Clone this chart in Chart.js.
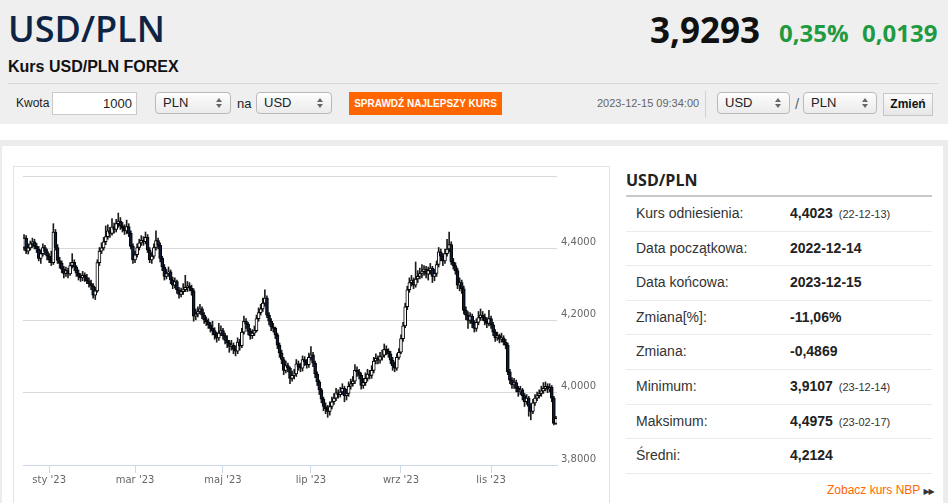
<!DOCTYPE html>
<html lang="pl">
<head>
<meta charset="utf-8">
<title>Kurs USD/PLN FOREX</title>
<script src="https://cdn.jsdelivr.net/npm/chart.js@4.4.1/dist/chart.umd.min.js"></script>
<style>
  html, body { margin: 0; padding: 0; }
  body { width: 948px; height: 503px; overflow: hidden; position: relative; background: #fff;
         font-family: "Liberation Sans", Arial, sans-serif; color: #222; }
  body > div { position: absolute; }
  #hdr { left: 0; top: 0; width: 948px; height: 124px; background: #efefef; }
  #title { left: 8px; top: 11px; font: 600 36px/1 "Open Sans", sans-serif; color: #0d2445; }
  #sub { left: 8px; top: 59px; font: bold 16px/1 "Liberation Sans", Arial, sans-serif; color: #111; }
  #price { left: 650px; top: 12px; font: 700 35px/1 "Open Sans", sans-serif; color: #111; }
  .chg { top: 21px; font: 700 24px/1 "Open Sans", sans-serif; color: #1f9a40; }
  #hr { left: 8px; top: 83px; width: 930px; height: 1px; background: #d6d6d6; }
  .lbl { top: 92px; height: 23px; line-height: 23px; font-size: 13px; color: #222; }
  #kwota { left: 52px; top: 92px; width: 85px; height: 23px; box-sizing: border-box; border: 1px solid #c9c9c9;
           background: #fff; text-align: right; padding-right: 4px; line-height: 21px; font-size: 13px; }
  .sel { top: 92px; height: 22px; box-sizing: border-box; border: 1px solid #b9b9b9; border-radius: 4px;
         background: linear-gradient(#fdfdfd, #ebebeb); padding-left: 7px; line-height: 20px; font-size: 13px; }
  .sel i { position: absolute; right: 8px; top: 5px; width: 6px; height: 11px; }
  .sel i::before, .sel i::after { content: ''; position: absolute; left: 0; border-left: 3px solid transparent; border-right: 3px solid transparent; }
  .sel i::before { top: 0; border-bottom: 4px solid #666; }
  .sel i::after { top: 6px; border-top: 4px solid #666; }
  #btn { left: 349px; top: 92px; width: 153px; height: 23px; background: #ff6600; color: #fff;
         font: bold 10px/23px "Liberation Sans", Arial, sans-serif; text-align: center; }
  #stamp { left: 597px; top: 92px; line-height: 23px; font-size: 11px; color: #666; }
  #vsep { left: 705px; top: 91px; width: 1px; height: 27px; background: #d2d2d2; }
  #zmien { left: 883px; top: 93px; width: 50px; height: 23px; box-sizing: border-box; border: 1px solid #c6c6c6;
           background: linear-gradient(#fbfbfb, #e6e6e6); text-align: center; font: bold 12px/21px "Liberation Sans", Arial, sans-serif; color: #111; }
  #band { left: 0; top: 140px; width: 948px; height: 6px; background: #ececec; }
  #lband { left: 0; top: 140px; width: 2px; height: 363px; background: #ececec; }
  #rband { left: 943px; top: 140px; width: 5px; height: 363px; background: #ececec; }
  #chartbox { left: 13px; top: 166px; width: 597px; height: 345px; box-sizing: border-box; border: 1px solid #e3e3e3; }
  #chartwrap { left: 13px; top: 166px; width: 597px; height: 337px; }
  #sideTitle { left: 626px; top: 172px; font: 700 16px/1 "Open Sans", sans-serif; color: #222; }
  #sideLine { left: 626px; top: 195px; width: 306px; height: 2px; background: #c8c8c8; }
  #rows { left: 626px; top: 197px; width: 306px; }
  .row { position: relative; height: 33.6px; line-height: 33.6px; border-bottom: 1px solid #ebebeb; font-size: 14px; color: #333; padding-left: 10px; }
  .row b { position: absolute; left: 164px; top: 0; color: #222; }
  .row small { font-size: 11px; font-weight: normal; margin-left: 6px; color: #333; }
  #nbp { left: 827px; top: 483px; font-size: 12px; line-height: 14px; color: #ff6600; white-space: nowrap; }
  #nbp span { font: 8px "DejaVu Sans", sans-serif; color: #333; letter-spacing: -1px; margin-left: 3px; }
</style>
</head>
<body>
<div id="hdr"></div>
<div id="title">USD/PLN</div>
<div id="sub">Kurs USD/PLN FOREX</div>
<div id="price">3,9293</div>
<div class="chg" style="left:779px">0,35%</div>
<div class="chg" style="left:862px">0,0139</div>
<div id="hr"></div>
<div class="lbl" style="left:16px;font-size:12px">Kwota</div>
<div id="kwota">1000</div>
<div class="sel" style="left:155px;width:76px">PLN<i></i></div>
<div class="lbl" style="left:237px">na</div>
<div class="sel" style="left:256px;width:76px">USD<i></i></div>
<div id="btn">SPRAWDŹ NAJLEPSZY KURS</div>
<div id="stamp">2023-12-15 09:34:00</div>
<div id="vsep"></div>
<div class="sel" style="left:717px;width:73px">USD<i></i></div>
<div class="lbl" style="left:795px;color:#666;font-size:15px">/</div>
<div class="sel" style="left:803px;width:74px">PLN<i></i></div>
<div id="zmien">Zmień</div>

<div id="band"></div>
<div id="lband"></div>
<div id="rband"></div>
<div id="chartbox"></div>
<div id="chartwrap"><canvas id="chart"></canvas></div>

<div id="sideTitle">USD/PLN</div>
<div id="sideLine"></div>
<div id="rows">
  <div class="row">Kurs odniesienia:<b>4,4023<small>(22-12-13)</small></b></div>
  <div class="row">Data początkowa:<b>2022-12-14</b></div>
  <div class="row">Data końcowa:<b>2023-12-15</b></div>
  <div class="row">Zmiana[%]:<b>-11,06%</b></div>
  <div class="row">Zmiana:<b>-0,4869</b></div>
  <div class="row">Minimum:<b>3,9107<small>(23-12-14)</small></b></div>
  <div class="row">Maksimum:<b>4,4975<small>(23-02-17)</small></b></div>
  <div class="row">Średni:<b>4,2124</b></div>
</div>
<div id="nbp">Zobacz kurs NBP<span>▶▶</span></div>

<script>
// sesje od 2022-12-14 do 2023-12-15 (dni robocze, bez swiat w PL)
const startDay = '2022-12-14';
const endDay = '2023-12-15';
const holidays = ['2022-12-26', '2023-01-06', '2023-04-10', '2023-05-01', '2023-05-03', '2023-06-08', '2023-08-15', '2023-11-01'];
const monthNames = ['sty', 'lut', 'mar', 'kwi', 'maj', 'cze', 'lip', 'sie', 'wrz', 'paź', 'lis', 'gru'];
const tickMonths = [0, 2, 4, 6, 8, 10];
const yTicks = { min: 3.8, max: 4.6, step: 0.2 };

const opens = [
  4.402, 4.428, 4.392, 4.401, 4.412, 4.418, 4.405, 4.398, 4.372, 4.385,
  4.402, 4.391, 4.378, 4.368, 4.360, 4.445, 4.402, 4.366, 4.358, 4.342,
  4.330, 4.338, 4.329, 4.352, 4.361, 4.348, 4.331, 4.322, 4.318, 4.325,
  4.319, 4.310, 4.302, 4.296, 4.270, 4.282, 4.360, 4.392, 4.401, 4.418,
  4.432, 4.448, 4.441, 4.459, 4.452, 4.468, 4.475, 4.462, 4.455, 4.448,
  4.460, 4.441, 4.405, 4.368, 4.382, 4.402, 4.415, 4.422, 4.418, 4.430,
  4.395, 4.368, 4.378, 4.402, 4.421, 4.408, 4.372, 4.348, 4.322, 4.330,
  4.335, 4.312, 4.298, 4.308, 4.285, 4.272, 4.280, 4.285, 4.292, 4.296,
  4.290, 4.282, 4.212, 4.218, 4.225, 4.232, 4.215, 4.202, 4.196, 4.188,
  4.178, 4.172, 4.160, 4.152, 4.165, 4.172, 4.158, 4.145, 4.138, 4.128,
  4.132, 4.120, 4.115, 4.140, 4.130, 4.168, 4.198, 4.190, 4.170, 4.158,
  4.165, 4.172, 4.205, 4.222, 4.232, 4.248, 4.262, 4.215, 4.198, 4.182,
  4.178, 4.160, 4.132, 4.110, 4.092, 4.062, 4.075, 4.068, 4.040, 4.048,
  4.052, 4.080, 4.072, 4.068, 4.092, 4.085, 4.078, 4.098, 4.105, 4.082,
  4.052, 4.030, 4.008, 3.982, 3.962, 3.955, 3.948, 3.962, 3.975, 3.985,
  4.000, 3.995, 4.002, 4.012, 3.992, 3.998, 4.018, 4.025, 4.032, 4.062,
  4.058, 4.048, 4.020, 4.028, 4.040, 4.052, 4.048, 4.062, 4.088, 4.095,
  4.090, 4.100, 4.104, 4.120, 4.115, 4.108, 4.090, 4.075, 4.068, 4.098,
  4.112, 4.150, 4.185, 4.238, 4.285, 4.305, 4.312, 4.298, 4.315, 4.322,
  4.330, 4.335, 4.342, 4.328, 4.338, 4.345, 4.322, 4.330, 4.355, 4.390,
  4.378, 4.365, 4.385, 4.398, 4.410, 4.362, 4.352, 4.338, 4.298, 4.305,
  4.288, 4.228, 4.215, 4.200, 4.212, 4.192, 4.178, 4.195, 4.208, 4.215,
  4.210, 4.198, 4.192, 4.205, 4.188, 4.168, 4.152, 4.158, 4.148, 4.152,
  4.140, 4.132, 4.058, 4.035, 4.022, 4.028, 4.012, 4.002, 4.008, 3.992,
  3.975, 3.985, 3.962, 3.948, 3.972, 3.985, 3.992, 3.998, 4.005, 4.012,
  4.018, 4.010, 4.015, 3.985, 3.915
];
const highs = [
  4.438, 4.435, 4.412, 4.420, 4.428, 4.425, 4.414, 4.405, 4.395, 4.412,
  4.408, 4.398, 4.385, 4.392, 4.468, 4.452, 4.410, 4.375, 4.365, 4.350,
  4.348, 4.345, 4.360, 4.385, 4.368, 4.352, 4.340, 4.330, 4.336, 4.332,
  4.328, 4.318, 4.312, 4.302, 4.292, 4.368, 4.402, 4.415, 4.430, 4.462,
  4.465, 4.458, 4.482, 4.470, 4.480, 4.4975, 4.485, 4.472, 4.465, 4.478,
  4.468, 4.448, 4.412, 4.392, 4.412, 4.425, 4.435, 4.432, 4.445, 4.438,
  4.402, 4.388, 4.412, 4.448, 4.428, 4.415, 4.378, 4.355, 4.342, 4.348,
  4.340, 4.320, 4.318, 4.312, 4.292, 4.290, 4.302, 4.325, 4.308, 4.305,
  4.298, 4.288, 4.232, 4.238, 4.245, 4.238, 4.222, 4.210, 4.205, 4.195,
  4.198, 4.180, 4.168, 4.192, 4.185, 4.178, 4.165, 4.158, 4.145, 4.145,
  4.138, 4.130, 4.152, 4.148, 4.178, 4.212, 4.205, 4.195, 4.178, 4.175,
  4.185, 4.215, 4.235, 4.245, 4.262, 4.285, 4.268, 4.222, 4.205, 4.192,
  4.182, 4.165, 4.138, 4.118, 4.098, 4.088, 4.082, 4.072, 4.060, 4.065,
  4.092, 4.088, 4.082, 4.102, 4.100, 4.092, 4.110, 4.128, 4.112, 4.088,
  4.058, 4.035, 4.012, 3.988, 3.972, 3.965, 3.975, 3.988, 3.998, 4.012,
  4.008, 4.015, 4.025, 4.018, 4.010, 4.030, 4.038, 4.045, 4.078, 4.072,
  4.065, 4.055, 4.040, 4.055, 4.065, 4.062, 4.075, 4.098, 4.108, 4.102,
  4.112, 4.118, 4.135, 4.130, 4.122, 4.115, 4.098, 4.085, 4.108, 4.122,
  4.160, 4.195, 4.248, 4.295, 4.318, 4.325, 4.318, 4.362, 4.338, 4.345,
  4.355, 4.352, 4.350, 4.348, 4.358, 4.350, 4.342, 4.365, 4.402, 4.398,
  4.385, 4.398, 4.425, 4.445, 4.418, 4.372, 4.360, 4.345, 4.318, 4.312,
  4.295, 4.238, 4.225, 4.222, 4.218, 4.200, 4.205, 4.225, 4.232, 4.225,
  4.218, 4.208, 4.228, 4.212, 4.195, 4.175, 4.168, 4.162, 4.165, 4.158,
  4.148, 4.138, 4.065, 4.042, 4.040, 4.035, 4.018, 4.018, 4.012, 3.998,
  3.995, 3.990, 3.970, 3.982, 3.995, 4.002, 4.008, 4.018, 4.028, 4.030,
  4.025, 4.025, 4.020, 3.990, 3.935
];
const lows = [
  4.395, 4.385, 4.384, 4.395, 4.402, 4.398, 4.388, 4.365, 4.358, 4.378,
  4.382, 4.368, 4.360, 4.352, 4.355, 4.395, 4.358, 4.345, 4.332, 4.318,
  4.322, 4.318, 4.325, 4.345, 4.338, 4.322, 4.312, 4.308, 4.310, 4.308,
  4.302, 4.292, 4.285, 4.262, 4.258, 4.278, 4.352, 4.385, 4.395, 4.410,
  4.425, 4.430, 4.436, 4.442, 4.445, 4.458, 4.452, 4.445, 4.438, 4.440,
  4.432, 4.398, 4.358, 4.360, 4.375, 4.395, 4.408, 4.408, 4.412, 4.388,
  4.360, 4.358, 4.372, 4.395, 4.398, 4.362, 4.338, 4.312, 4.315, 4.322,
  4.302, 4.288, 4.290, 4.275, 4.262, 4.265, 4.272, 4.280, 4.280, 4.282,
  4.270, 4.198, 4.202, 4.210, 4.218, 4.205, 4.192, 4.186, 4.178, 4.168,
  4.160, 4.148, 4.140, 4.145, 4.158, 4.148, 4.135, 4.125, 4.112, 4.118,
  4.108, 4.102, 4.108, 4.118, 4.125, 4.162, 4.178, 4.160, 4.148, 4.150,
  4.158, 4.168, 4.198, 4.215, 4.225, 4.240, 4.208, 4.188, 4.172, 4.168,
  4.150, 4.122, 4.098, 4.080, 4.050, 4.055, 4.058, 4.025, 4.032, 4.038,
  4.045, 4.062, 4.058, 4.060, 4.075, 4.068, 4.070, 4.090, 4.072, 4.042,
  4.020, 3.995, 3.972, 3.950, 3.942, 3.932, 3.938, 3.955, 3.968, 3.978,
  3.985, 3.988, 3.995, 3.975, 3.980, 3.990, 4.010, 4.018, 4.025, 4.045,
  4.038, 4.010, 4.012, 4.020, 4.032, 4.038, 4.040, 4.055, 4.080, 4.080,
  4.082, 4.090, 4.098, 4.105, 4.098, 4.080, 4.062, 4.058, 4.062, 4.092,
  4.108, 4.142, 4.180, 4.230, 4.278, 4.295, 4.288, 4.292, 4.305, 4.315,
  4.318, 4.325, 4.318, 4.312, 4.328, 4.305, 4.310, 4.322, 4.348, 4.365,
  4.352, 4.358, 4.378, 4.390, 4.355, 4.342, 4.328, 4.288, 4.282, 4.275,
  4.218, 4.202, 4.178, 4.192, 4.180, 4.168, 4.170, 4.188, 4.200, 4.200,
  4.188, 4.180, 4.185, 4.178, 4.158, 4.142, 4.145, 4.138, 4.140, 4.132,
  4.122, 4.050, 4.025, 4.012, 4.012, 4.002, 3.990, 3.995, 3.980, 3.962,
  3.968, 3.935, 3.925, 3.942, 3.965, 3.978, 3.985, 3.990, 3.998, 4.005,
  4.000, 4.002, 3.975, 3.9107, 3.912
];
const closes = [
  4.428, 4.392, 4.401, 4.412, 4.418, 4.405, 4.398, 4.372, 4.385, 4.402,
  4.391, 4.378, 4.368, 4.360, 4.445, 4.402, 4.366, 4.358, 4.342, 4.330,
  4.338, 4.329, 4.352, 4.361, 4.348, 4.331, 4.322, 4.318, 4.325, 4.319,
  4.310, 4.302, 4.296, 4.270, 4.282, 4.360, 4.392, 4.401, 4.418, 4.432,
  4.448, 4.441, 4.459, 4.452, 4.468, 4.475, 4.462, 4.455, 4.448, 4.460,
  4.441, 4.405, 4.368, 4.382, 4.402, 4.415, 4.422, 4.418, 4.430, 4.395,
  4.368, 4.378, 4.402, 4.421, 4.408, 4.372, 4.348, 4.322, 4.330, 4.335,
  4.312, 4.298, 4.308, 4.285, 4.272, 4.280, 4.285, 4.292, 4.296, 4.290,
  4.282, 4.212, 4.218, 4.225, 4.232, 4.215, 4.202, 4.196, 4.188, 4.178,
  4.172, 4.160, 4.152, 4.165, 4.172, 4.158, 4.145, 4.138, 4.128, 4.132,
  4.120, 4.115, 4.140, 4.130, 4.168, 4.198, 4.190, 4.170, 4.158, 4.165,
  4.172, 4.205, 4.222, 4.232, 4.248, 4.262, 4.215, 4.198, 4.182, 4.178,
  4.160, 4.132, 4.110, 4.092, 4.062, 4.075, 4.068, 4.040, 4.048, 4.052,
  4.080, 4.072, 4.068, 4.092, 4.085, 4.078, 4.098, 4.105, 4.082, 4.052,
  4.030, 4.008, 3.982, 3.962, 3.955, 3.948, 3.962, 3.975, 3.985, 4.000,
  3.995, 4.002, 4.012, 3.992, 3.998, 4.018, 4.025, 4.032, 4.062, 4.058,
  4.048, 4.020, 4.028, 4.040, 4.052, 4.048, 4.062, 4.088, 4.095, 4.090,
  4.100, 4.104, 4.120, 4.115, 4.108, 4.090, 4.075, 4.068, 4.098, 4.112,
  4.150, 4.185, 4.238, 4.285, 4.305, 4.312, 4.298, 4.315, 4.322, 4.330,
  4.335, 4.342, 4.328, 4.338, 4.345, 4.322, 4.330, 4.355, 4.390, 4.378,
  4.365, 4.385, 4.398, 4.410, 4.362, 4.352, 4.338, 4.298, 4.305, 4.288,
  4.228, 4.215, 4.200, 4.212, 4.192, 4.178, 4.195, 4.208, 4.215, 4.210,
  4.198, 4.192, 4.205, 4.188, 4.168, 4.152, 4.158, 4.148, 4.152, 4.140,
  4.132, 4.058, 4.035, 4.022, 4.028, 4.012, 4.002, 4.008, 3.992, 3.975,
  3.985, 3.962, 3.948, 3.972, 3.985, 3.992, 3.998, 4.005, 4.012, 4.018,
  4.010, 4.015, 3.985, 3.915, 3.929
];

// kategorie osi X: kolejne dni sesyjne
const days = [];
for (let d = new Date(startDay + 'T00:00:00Z'); d <= new Date(endDay + 'T00:00:00Z'); d.setUTCDate(d.getUTCDate() + 1)) {
  const iso = d.toISOString().slice(0, 10);
  const wd = d.getUTCDay();
  if (wd === 0 || wd === 6 || holidays.includes(iso)) continue;
  days.push(iso);
}

// etykiety miesiecy na pierwszej sesji miesiaca
const monthTicks = {};
days.forEach((d, i) => {
  if (i === 0 || d.slice(5, 7) === days[i - 1].slice(5, 7)) return;
  const m = +d.slice(5, 7) - 1;
  if (tickMonths.includes(m)) monthTicks[i] = monthNames[m] + " '" + d.slice(2, 4);
});

Chart.defaults.font.family = '"DejaVu Sans", sans-serif';

new Chart(document.getElementById('chart'), {
  type: 'bar',
  data: {
    labels: days,
    datasets: [
      {
        label: 'knoty',
        data: lows.map((l, i) => [l, highs[i]]),
        backgroundColor: '#1c1c1c',
        borderWidth: 0,
        barThickness: 1,
        grouped: false,
        order: 2
      },
      {
        label: 'korpusy',
        data: opens.map((o, i) => [o, closes[i]]),
        backgroundColor: ctx => closes[ctx.dataIndex] >= opens[ctx.dataIndex] ? '#ffffff' : '#0d1c38',
        borderColor: '#000000',
        borderWidth: 1,
        borderSkipped: false,
        barThickness: 3,
        minBarLength: 1,
        grouped: false,
        order: 1
      }
    ]
  },
  options: {
    responsive: true,
    maintainAspectRatio: false,
    animation: false,
    layout: { padding: { left: 10, top: 10, right: 3, bottom: 0 } },
    plugins: { legend: { display: false }, tooltip: { enabled: false } },
    scales: {
      x: {
        type: 'category',
        offset: true,
        afterBuildTicks: axis => { axis.ticks = axis.ticks.filter(t => monthTicks[t.value] !== undefined); },
        afterFit: axis => { axis.height = 38; },
        grid: { drawOnChartArea: false, drawTicks: true, tickLength: 8, color: '#ccd6eb', offset: false },
        border: { color: '#ccd6eb' },
        ticks: {
          autoSkip: false, maxRotation: 0, padding: 1, color: '#666', font: { size: 10 },
          callback: v => monthTicks[v]
        }
      },
      y: {
        position: 'right',
        min: yTicks.min,
        max: yTicks.max,
        afterFit: axis => { axis.width = 50; },
        grid: {
          drawTicks: false,
          color: ctx => ctx.tick && Math.abs(ctx.tick.value - yTicks.min) < 1e-6 ? '#ccd6eb' : '#d9d9d9'
        },
        border: { display: false },
        ticks: {
          stepSize: yTicks.step, padding: 4, labelOffset: -6, color: '#666', font: { size: 10 },
          callback: v => v > yTicks.max - 1e-6 ? '' : v.toFixed(4).replace('.', ',')
        }
      }
    }
  }
});
</script>
</body>
</html>
